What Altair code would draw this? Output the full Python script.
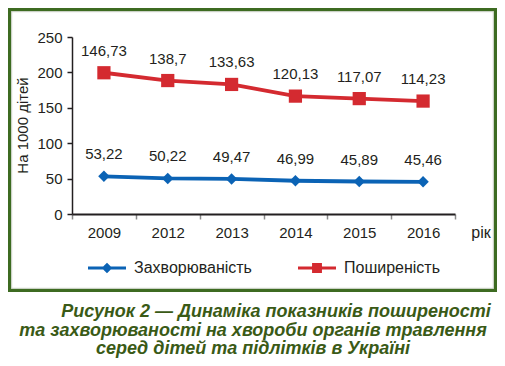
import altair as alt
import pandas as pd

# ---- data ----
years = ["2009", "2012", "2013", "2014", "2015", "2016"]
incidence = [53.22, 50.22, 49.47, 46.99, 45.89, 45.46]
incidence_labels = ["53,22", "50,22", "49,47", "46,99", "45,89", "45,46"]
prevalence = [199.5, 188.5, 183.0, 166.5, 163.0, 159.5]   # heights as drawn in the figure
prevalence_labels = ["146,73", "138,7", "133,63", "120,13", "117,07", "114,23"]
series_names = ["Захворюваність", "Поширеність"]
series_colors = ["#0b63b5", "#d42a30"]
point_shapes = ["diamond", "square"]
point_sizes = [130, 175]
y_ticks = [0, 50, 100, 150, 200, 250]
y_title = "На 1000 дітей"
x_title = "рік"
caption_lines = [
    "Рисунок 2 — Динаміка показників поширеності",
    "та захворюваності на хвороби органів травлення",
    "серед дітей та підлітків в Україні",
]

FONT = "Liberation Sans"
TEXT = "#231f20"
GREEN = "#3d6b21"
CAPTION = "#3a5a16"

rows = []
for i, yr in enumerate(years):
    rows.append({"year": yr, "series": series_names[0], "value": incidence[i], "label": incidence_labels[i]})
    rows.append({"year": yr, "series": series_names[1], "value": prevalence[i], "label": prevalence_labels[i]})
df = pd.DataFrame(rows)

# legend symbols: line with a marker (unit square -1..1)
legend_paths = [
    "M-1,-0.085L1,-0.085L1,0.085L-1,0.085Z M0,-0.28L0.28,0L0,0.28L-0.28,0Z",
    "M-1,-0.085L1,-0.085L1,0.085L-1,0.085Z M-0.26,-0.26L0.26,-0.26L0.26,0.26L-0.26,0.26Z",
]

x_enc = alt.X(
    "year:N",
    sort=years,
    bandPosition=0.5,
    scale=alt.Scale(type="band", paddingInner=0, paddingOuter=0),
    axis=alt.Axis(
        title=None,
        labelAngle=0, labelFontSize=15, labelPadding=6, labelColor=TEXT, labelFont=FONT,
        tickBand="extent", tickSize=5, tickColor="#8a8a8a", tickWidth=1.5,
        domainWidth=2, domainColor=TEXT, grid=False,
    ),
)
y_enc = alt.Y(
    "value:Q",
    scale=alt.Scale(domain=[0, 250], nice=False, zero=True),
    axis=alt.Axis(
        values=y_ticks, title=None,
        labelFontSize=15, labelPadding=5, labelColor=TEXT, labelFont=FONT,
        tickSize=5, tickColor=TEXT, tickWidth=1.5, domainWidth=1.5, domainColor=TEXT, grid=False,
    ),
)
color_plain = alt.Color("series:N", scale=alt.Scale(domain=series_names, range=series_colors), legend=None)

lines = alt.Chart(df).mark_line(strokeWidth=3.8).encode(x=x_enc, y=y_enc, color=color_plain, detail="series:N")

points = alt.Chart(df).mark_point(filled=True, opacity=1).encode(
    x=x_enc, y=y_enc, color=color_plain,
    shape=alt.Shape("series:N", scale=alt.Scale(domain=series_names, range=point_shapes), legend=None),
    size=alt.Size("series:N", scale=alt.Scale(domain=series_names, range=point_sizes), legend=None),
)

labels = alt.Chart(df).mark_text(dy=-22, fontSize=15, font=FONT, color=TEXT).encode(
    x=x_enc, y=y_enc, text="label:N"
)

legend_layer = alt.Chart(df).transform_filter("false").mark_point(filled=True, opacity=1).encode(
    color=alt.Color(
        "series:N", scale=alt.Scale(domain=series_names, range=series_colors),
        legend=alt.Legend(
            title=None, orient="none", legendX=16, legendY=212, direction="horizontal",
            symbolSize=1444, symbolStrokeWidth=0, labelFontSize=16, labelFont=FONT,
            labelColor=TEXT, labelOffset=8, columnPadding=46, padding=0, symbolOpacity=1,
        ),
    ),
    shape=alt.Shape("series:N", scale=alt.Scale(domain=series_names, range=legend_paths)),
)

one = pd.DataFrame({"k": [0]})
frame = alt.Chart(one).mark_rect(fill=None, stroke=GREEN, strokeWidth=3.2).encode(
    x=alt.value(-62.4), x2=alt.value(423.4), y=alt.value(-27.4), y2=alt.value(253.4)
)
frame_inner = alt.Chart(one).mark_rect(fill=None, stroke="#c9cfc4", strokeWidth=1).encode(
    x=alt.value(-60.3), x2=alt.value(421.3), y=alt.value(-25.3), y2=alt.value(251.3)
)

y_title_mark = alt.Chart(pd.DataFrame({"t": [y_title]})).mark_text(
    font=FONT, fontSize=15, color=TEXT, angle=270, align="center", baseline="alphabetic"
).encode(x=alt.value(-44.5), y=alt.value(88.5), text="t:N")

x_title_mark = alt.Chart(pd.DataFrame({"t": [x_title]})).mark_text(
    font=FONT, fontSize=16, color=TEXT, align="center", baseline="alphabetic"
).encode(x=alt.value(409), y=alt.value(201), text="t:N")

cap_x = [204, 181, 181]
cap_y = [280, 298.5, 317]
caps = []
for i, line in enumerate(caption_lines):
    caps.append(
        alt.Chart(pd.DataFrame({"t": [line]})).mark_text(
            font=FONT, fontSize=18, fontWeight="bold", fontStyle="italic",
            color=CAPTION, align="center", baseline="alphabetic",
        ).encode(x=alt.value(cap_x[i]), y=alt.value(cap_y[i]), text="t:N")
    )

chart = alt.layer(
    frame, frame_inner, lines, points, labels, legend_layer, y_title_mark, x_title_mark, *caps
).resolve_scale(
    color="independent", shape="independent", size="independent"
).properties(
    width=383, height=177,
    autosize=alt.AutoSizeParams(type="none"),
    padding={"left": 64, "top": 29, "right": 42, "bottom": 144},
    background="white",
).configure_view(stroke=None)

chart.save("out.html", embed_options={"renderer": "svg", "actions": False})
